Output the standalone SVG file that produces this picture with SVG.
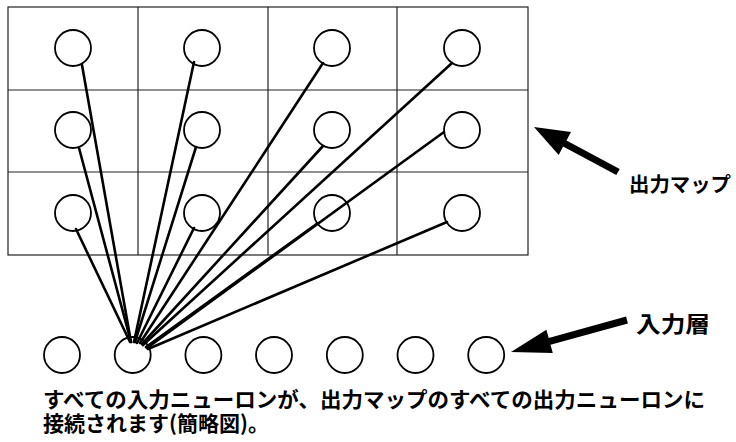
<svg xmlns="http://www.w3.org/2000/svg" width="736" height="442" viewBox="0 0 736 442">
<style>
.grid{fill:none;stroke:#222;stroke-width:1.2}
.n{fill:#fff;stroke:#000;stroke-width:1.8}
.c{stroke:#000;stroke-width:2.6;stroke-linecap:round;fill:none}
.t{font-family:"Noto Sans CJK JP","Noto Sans",sans-serif;font-weight:bold;fill:#000}
.ar{fill:#000}
</style>
<rect width="736" height="442" fill="#fff"/>
<g id="output-map-grid">
<rect class="grid" x="8" y="7" width="520" height="248"/>
<line class="grid" x1="138" y1="7" x2="138" y2="255"/>
<line class="grid" x1="268" y1="7" x2="268" y2="255"/>
<line class="grid" x1="397" y1="7" x2="397" y2="255"/>
<line class="grid" x1="8" y1="90" x2="528" y2="90"/>
<line class="grid" x1="8" y1="172" x2="528" y2="172"/>
</g>
<g id="out-r1c1"><circle class="n" cx="73" cy="48" r="18"/></g>
<g id="out-r1c2"><circle class="n" cx="202" cy="48" r="18"/></g>
<g id="out-r1c3"><circle class="n" cx="332" cy="48" r="18"/></g>
<g id="out-r1c4"><circle class="n" cx="462" cy="48" r="18"/></g>
<g id="out-r2c1"><circle class="n" cx="73" cy="130" r="18"/></g>
<g id="out-r2c2"><circle class="n" cx="202" cy="130" r="18"/></g>
<g id="out-r2c3"><circle class="n" cx="332" cy="130" r="18"/></g>
<g id="out-r2c4"><circle class="n" cx="462" cy="130" r="18"/></g>
<g id="out-r3c1"><circle class="n" cx="73" cy="213" r="18"/></g>
<g id="out-r3c2"><circle class="n" cx="202" cy="213" r="18"/></g>
<g id="out-r3c3"><circle class="n" cx="332" cy="213" r="18"/></g>
<g id="out-r3c4"><circle class="n" cx="462" cy="213" r="18"/></g>
<g id="in-1"><circle class="n" cx="62" cy="355" r="18"/></g>
<g id="in-2"><circle class="n" cx="132.7" cy="355" r="18"/></g>
<g id="in-3"><circle class="n" cx="203.4" cy="355" r="18"/></g>
<g id="in-4"><circle class="n" cx="274" cy="355" r="18"/></g>
<g id="in-5"><circle class="n" cx="344.8" cy="355" r="18"/></g>
<g id="in-6"><circle class="n" cx="415.5" cy="355" r="18"/></g>
<g id="in-7"><circle class="n" cx="486.2" cy="355" r="18"/></g>
<g id="connectors">
<line class="c" x1="82" y1="65" x2="131" y2="342"/>
<line class="c" x1="79" y1="148" x2="131" y2="342"/>
<line class="c" x1="76" y1="229" x2="130" y2="342"/>
<line class="c" x1="194" y1="62" x2="134" y2="342"/>
<line class="c" x1="196" y1="147" x2="135" y2="342"/>
<line class="c" x1="194" y1="228" x2="137" y2="343"/>
<line class="c" x1="323" y1="63" x2="140" y2="343"/>
<line class="c" x1="323" y1="146" x2="142" y2="344"/>
<line class="c" x1="318" y1="223" x2="146" y2="347"/>
<line class="c" x1="452" y1="63" x2="143" y2="345"/>
<line class="c" x1="444" y1="132" x2="147" y2="348"/>
<line class="c" x1="447" y1="222" x2="148" y2="349"/>
</g>
<g id="label-output-map">
<polygon class="ar" points="534,127 571,132 566.5,140.4 619.7,168.9 616.3,175.1 563.1,146.6 558.7,155"/>
<text class="t" x="629" y="192" font-size="20.4">出力マップ</text>
</g>
<g id="label-input-layer">
<polygon class="ar" points="511,352 546.4,329.8 548.7,338 626.1,316.6 627.9,323.4 550.5,344.8 552.8,353"/>
<text class="t" x="636" y="332" font-size="22" textLength="74" lengthAdjust="spacingAndGlyphs">入力層</text>
</g>
<g id="caption">
<text class="t" font-size="21"><tspan x="43" y="407" textLength="662" lengthAdjust="spacingAndGlyphs">すべての入力ニューロンが、出力マップのすべての出力ニューロンに</tspan><tspan x="43" y="431">接続されます(簡略図)。</tspan></text>
</g>
</svg>
